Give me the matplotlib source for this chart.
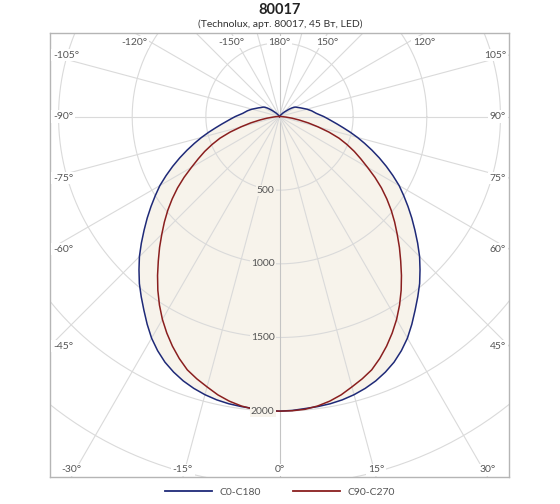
import matplotlib.pyplot as plt
import numpy as np
from matplotlib.lines import Line2D

# half-plane gamma angles (deg from nadir), step 2.5, and luminous intensity, cd
angles = [i * 2.5 for i in range(73)]
c0_c180 = [2000, 1997, 1990, 1986, 1980, 1970, 1955, 1935, 1910, 1878,
           1840, 1792, 1737, 1672, 1605, 1542, 1480, 1412, 1345, 1272,
           1200, 1132, 1065, 1000, 938, 868, 800, 733, 668, 606,
           548, 492, 440, 396, 358, 327, 300, 273, 250, 235,
           222, 207, 193, 178, 165, 154, 143, 135, 128, 118,
           100, 80, 60, 46, 35, 24, 15, 11, 8, 6,
           5, 4, 3, 2, 2, 1, 1, 0, 0, 0,
           0, 0, 0]
c90_c270 = [2000, 1999, 1995, 1982, 1962, 1935, 1900, 1867, 1830, 1778,
            1720, 1657, 1590, 1517, 1440, 1360, 1280, 1205, 1130, 1060,
            990, 918, 845, 768, 690, 622, 560, 495, 430, 352,
            270, 200, 135, 85, 45, 25, 12, 6, 3, 1,
            0, 0, 0, 0, 0, 0, 0, 0, 0, 0,
            0, 0, 0, 0, 0, 0, 0, 0, 0, 0,
            0, 0, 0, 0, 0, 0, 0, 0, 0, 0,
            0, 0, 0]
circle_values = [500, 1000, 1500, 2000, 2500, 3000]
circle_labels = ['500', '1000', '1500', '2000']
angle_labels = [0, 15, 30, 45, 60, 75, 90, 105, 120, 150, 180]
legend_names = ['C0-C180', 'C90-C270']

blue = '#1f2a78'
red = '#8a1f1f'
fill_c = '#f7f3eb'
grid_c = '#dadada'
text_c = '#555555'

plt.rcParams['font.family'] = ['Lato', 'DejaVu Sans']

fig = plt.figure(figsize=(5.6, 5.04), dpi=100)
ax = fig.add_axes([50 / 560, 27 / 504, 459 / 560, 444 / 504])
xmin, xmax, ymin, ymax = -1558, 1558, -2447, 567
ax.set_xlim(xmin, xmax)
ax.set_ylim(ymin, ymax)
ax.set_xticks([])
ax.set_yticks([])
for s in ax.spines.values():
    s.set_color('#b5b5b5')
    s.set_linewidth(1.0)
px = (xmax - xmin) / 459.0


def curve(vals):
    a = np.radians(np.array(angles, dtype=float))
    v = np.array(vals, dtype=float)
    full_a = np.concatenate([-a[::-1], a[1:]])
    full_v = np.concatenate([v[::-1], v[1:]])
    return full_v * np.sin(full_a), -full_v * np.cos(full_a)


bx, by = curve(c0_c180)
rx, ry = curve(c90_c270)
ax.fill(bx, by, color=fill_c, zorder=0, lw=0)
ax.fill(rx, ry, color=fill_c, zorder=0, lw=0)

# circles
t = np.linspace(0, 2 * np.pi, 400)
for r in circle_values:
    ax.plot(r * np.cos(t), r * np.sin(t), color=grid_c, lw=0.8, zorder=1)

# radial lines every 15 degrees
for g in range(0, 360, 15):
    a = np.radians(g)
    col = '#c4c4c4' if g % 180 == 0 else grid_c
    ax.plot([0, 5000 * np.sin(a)], [0, -5000 * np.cos(a)], color=col, lw=0.8, zorder=1)

ax.plot(bx, by, color=blue, lw=1.1, zorder=3)
ax.plot(rx, ry, color=red, lw=1.1, zorder=3)

# angle labels where rays meet the frame
box = dict(boxstyle='square,pad=0.15', fc='white', ec='none')
for g in angle_labels:
    for sign in ([1, -1] if g not in (0, 180) else [1]):
        a = np.radians(g)
        dx, dy = sign * np.sin(a), -np.cos(a)
        ts = []
        if dx > 1e-9:
            ts.append(xmax / dx)
        if dx < -1e-9:
            ts.append(xmin / dx)
        if dy > 1e-9:
            ts.append(ymax / dy)
        if dy < -1e-9:
            ts.append(ymin / dy)
        tt = min(ts)
        x, y = dx * tt, dy * tt
        txt = ('-' if sign < 0 else '') + str(g) + '°'
        if abs(x - xmin) < 1:
            ax.text(xmin + 3 * px, y, txt, ha='left', va='center', fontsize=7.5,
                    color=text_c, bbox=box, zorder=5)
        elif abs(x - xmax) < 1:
            ax.text(xmax - 3 * px, y, txt, ha='right', va='center', fontsize=7.5,
                    color=text_c, bbox=box, zorder=5)
        elif abs(y - ymax) < 1:
            ax.text(x, ymax - 9 * px, txt, ha='center', va='center', fontsize=7.5,
                    color=text_c, bbox=box, zorder=5)
        else:
            ax.text(x, ymin + 7 * px, txt, ha='center', va='center', fontsize=7.5,
                    color=text_c, bbox=box, zorder=5)

# intensity labels
for lab in circle_labels:
    v = float(lab)
    ax.text(-5 * px, -v, lab, ha='right', va='center', fontsize=7.5, color=text_c,
            bbox=dict(boxstyle='square,pad=0.1', fc=fill_c, ec='none'), zorder=4)

fig.text(0.5, 1 - 10 / 504, '80017', ha='center', va='center', fontsize=10.5,
         fontweight='bold', color='#222222')
fig.text(0.5, 1 - 24 / 504, '(Technolux, арт. 80017, 45 Вт, LED)', ha='center',
         va='center', fontsize=7.5, color='#333333')

handles = [Line2D([], [], color=blue, lw=1.3), Line2D([], [], color=red, lw=1.3)]
fig.legend(handles, legend_names, loc='center', bbox_to_anchor=(0.5, 12 / 504),
           ncol=2, frameon=False, fontsize=7.5, handlelength=4.5, columnspacing=3,
           labelcolor=text_c)

fig.savefig('out.png', dpi=100)
